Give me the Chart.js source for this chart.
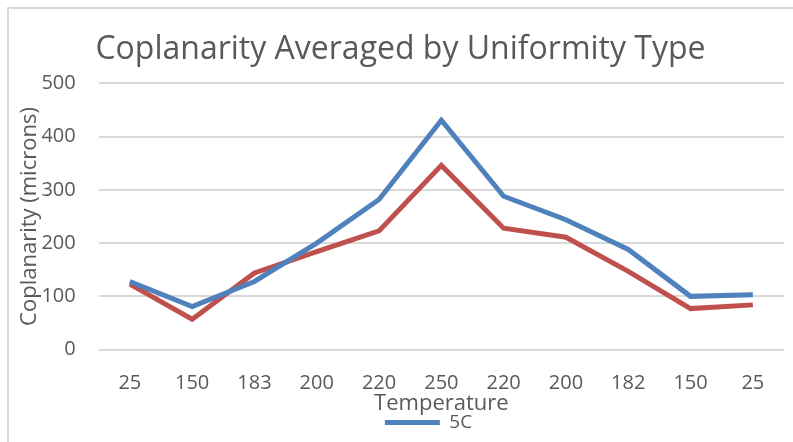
<!DOCTYPE html>
<html lang="en">
<head>
<meta charset="UTF-8" />
<title>Coplanarity</title>
<style>
  body { margin: 0; background: #fff; }
  #frame {
    position: absolute; left: 7px; top: 7px; width: 800px; height: 450px;
    border-left: 2px solid #d9d9d9; border-top: 2px solid #d9d9d9;
  }
  #wrap { position: absolute; left: 0; top: 0; width: 793px; height: 442px; }
</style>
</head>
<body>
<div id="frame"></div>
<div id="wrap"><canvas id="myChart"></canvas></div>
<script src="https://cdn.jsdelivr.net/npm/chart.js"></script>
<script>
// temperature profile (x categories)
const temps = ['25', '150', '183', '200', '220', '250', '220', '200', '182', '150', '25'];
// averaged coplanarity, microns
const series5C = [128, 81, 128, 200, 282, 431, 288, 244, 188, 100, 103];
const seriesOther = [123, 57, 144, 184, 223, 346, 228, 211, 147, 77, 84];
const yTicks = [0, 100, 200, 300, 400, 500];

const grey = '#595959';
const font = 'Open Sans';

// the legend sits a bit right of the middle in the original
const legendShift = {
  id: 'legendShift',
  afterLayout(chart) {
    chart.legend.left += 28;
    chart.legend.right += 28;
  }
};

const ctx = document.getElementById('myChart');

new Chart(ctx, {
  type: 'line',
  data: {
    labels: temps,
    datasets: [
      {
        label: '5C',
        data: series5C,
        borderColor: '#4f81bd',
        backgroundColor: '#4f81bd',
        borderWidth: 5,
        pointRadius: 0,
        tension: 0
      },
      {
        label: '',
        data: seriesOther,
        borderColor: '#c0504d',
        backgroundColor: '#c0504d',
        borderWidth: 5,
        pointRadius: 0,
        tension: 0
      }
    ]
  },
  plugins: [legendShift],
  options: {
    responsive: true,
    maintainAspectRatio: false,
    animation: false,
    layout: { padding: { left: 17, right: 9, top: 31, bottom: 0 } },
    plugins: {
      title: {
        display: true,
        text: 'Coplanarity Averaged by Uniformity Type',
        color: grey,
        font: { family: font, size: 32, weight: 'normal' },
        padding: { top: 0, bottom: 14 }
      },
      legend: {
        position: 'bottom',
        labels: {
          color: grey,
          font: { family: font, size: 19 },
          boxWidth: 55,
          boxHeight: 5,
          padding: 2,
          generateLabels: function (chart) {
            const ds = chart.data.datasets[0];
            return [{
              text: ds.label,
              fillStyle: ds.borderColor,
              strokeStyle: ds.borderColor,
              lineWidth: 0,
              fontColor: grey,
              datasetIndex: 0
            }];
          }
        }
      },
      tooltip: { enabled: false }
    },
    scales: {
      x: {
        offset: true,
        grid: { display: false, drawTicks: false },
        border: { display: false },
        ticks: { color: grey, font: { family: font, size: 20 }, padding: 22 },
        title: {
          display: true,
          text: 'Temperature',
          color: grey,
          font: { family: font, size: 22 },
          padding: { top: -27, bottom: -6 }
        }
      },
      y: {
        min: 0,
        max: 500,
        afterBuildTicks: function (axis) {
          axis.ticks = yTicks.map(v => ({ value: v }));
        },
        grid: { color: '#d9d9d9', lineWidth: 2, drawTicks: false },
        border: { display: false },
        ticks: { color: grey, font: { family: font, size: 20 }, padding: 23 },
        title: {
          display: true,
          text: 'Coplanarity (microns)',
          color: grey,
          font: { family: font, size: 22 },
          padding: { top: 0, bottom: -25 }
        }
      }
    }
  }
});
</script>
</body>
</html>
